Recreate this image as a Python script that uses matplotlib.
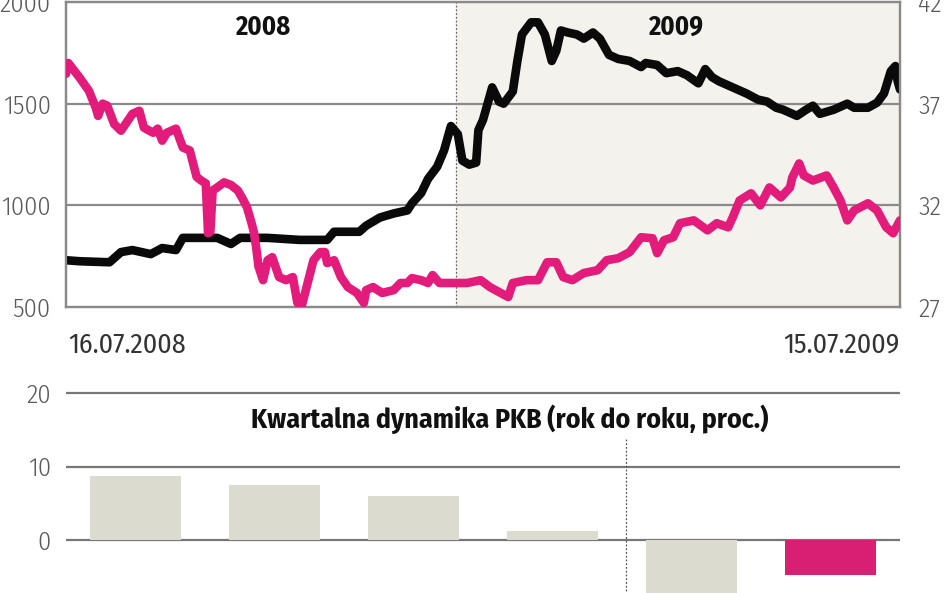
import matplotlib
matplotlib.use("Agg")
import matplotlib.pyplot as plt

# ---------------- data ----------------
start_label = "16.07.2008"
end_label = "15.07.2009"
year_labels = ["2008", "2009"]
days_total = 364
year_break_day = 170          # 1 Jan 2009 (days since 16.07.2008)

# pink series (left axis, 500-2000)
pink_day = [0, 1, 6, 10, 13, 14, 16, 18, 21, 24, 26, 29, 32, 34, 38, 40, 42, 44, 48, 51,
            54, 57, 59, 61, 62, 63, 64, 66, 69, 72, 75, 77, 79, 81, 82, 83, 84, 86, 88, 90,
            93, 96, 99, 101, 103, 105, 108, 111, 113, 114, 117, 120, 123, 127, 130, 131, 134, 138, 143, 146,
            149, 151, 155, 158, 160, 163, 169, 175, 181, 185, 193, 195, 201, 206, 210, 214, 217, 221, 226, 232,
            236, 241, 246, 251, 256, 258, 261, 265, 268, 274, 280, 284, 289, 291, 294, 299, 303, 307, 312, 316,
            317, 320, 322, 326, 332, 335, 338, 341, 344, 350, 354, 358, 361, 364]
pink_val = [1647, 1700, 1627, 1563, 1480, 1440, 1500, 1490, 1400, 1367, 1400, 1450, 1465, 1382, 1357, 1377, 1318, 1357, 1377, 1284,
            1270, 1140, 1122, 1108, 863, 870, 1073, 1088, 1113, 1100, 1073, 1034, 990, 912, 868, 794, 700, 632, 730, 745,
            647, 632, 647, 520, 510, 598, 730, 770, 770, 716, 730, 647, 598, 569, 520, 583, 598, 569, 583, 618,
            618, 642, 632, 618, 657, 618, 618, 618, 632, 598, 549, 618, 632, 632, 720, 720, 647, 632, 667, 681,
            730, 740, 770, 843, 838, 765, 828, 843, 912, 926, 877, 912, 892, 941, 1024, 1059, 1000, 1088, 1039, 1088,
            1137, 1206, 1147, 1122, 1147, 1088, 1024, 926, 975, 1010, 975, 892, 863, 926]

# black series (right axis, 27-42)
black_day = [0, 6, 19, 24, 29, 37, 42, 48, 51, 58, 66, 72, 76, 88, 102, 114, 117, 128, 131, 137,
             143, 149, 151, 155, 158, 162, 165, 168, 171, 173, 176, 179, 180, 182, 186, 189, 191, 195, 197, 199,
             203, 206, 209, 212, 214, 216, 219, 223, 226, 230, 233, 237, 241, 246, 251, 253, 258, 262, 267, 271,
             276, 279, 282, 285, 291, 297, 302, 306, 310, 313, 319, 323, 326, 329, 335, 341, 344, 350, 354, 357,
             360, 362, 363, 364]
black_val = [29.3, 29.25, 29.2, 29.7, 29.8, 29.6, 29.9, 29.8, 30.4, 30.4, 30.4, 30.1, 30.4, 30.4, 30.3, 30.3, 30.7, 30.7, 31.0, 31.4,
             31.6, 31.75, 32.1, 32.6, 33.3, 33.9, 34.7, 35.9, 35.5, 34.2, 34.0, 34.1, 35.7, 36.2, 37.8, 37.1, 37.0, 37.6, 39.1, 40.4,
             41.0, 41.0, 40.4, 39.1, 39.6, 40.6, 40.5, 40.4, 40.2, 40.5, 40.2, 39.4, 39.2, 39.1, 38.8, 39.0, 38.9, 38.5, 38.6, 38.4,
             38.0, 38.7, 38.3, 38.1, 37.8, 37.5, 37.2, 37.1, 36.8, 36.7, 36.4, 36.7, 36.9, 36.5, 36.7, 37.0, 36.8, 36.8, 37.05, 37.5,
             38.6, 38.85, 38.1, 37.7]

left_ticks = [500, 1000, 1500, 2000]
right_ticks = [27, 32, 37, 42]

# GDP bars
gdp_title = "Kwartalna dynamika PKB (rok do roku, proc.)"
gdp_vals = [8.7, 7.5, 6.0, 1.2, -9.5, -4.7]
gdp_colors = ["#dcdbcf", "#dcdbcf", "#dcdbcf", "#dcdbcf", "#dcdbcf", "#d81f74"]
gdp_ticks = [0, 10, 20]

# ---------------- style ----------------
FAM = ["Fira Sans Condensed", "PT Sans Narrow", "DejaVu Sans"]
PINK = "#e31b7b"
GRID = "#8a8a8a"
TICKC = "#5a5a5a"

fig = plt.figure(figsize=(9.48, 5.93), dpi=100)
W, H = 948, 593

def ax_rect(l, t, r, b):
    return [l / W, 1 - b / H, (r - l) / W, (b - t) / H]

# ---------- top panel ----------
axb = fig.add_axes(ax_rect(66, 2, 900, 307))   # black (right scale)
axp = axb.twinx()                                # pink (left scale)
axb.set_xlim(0, days_total)
axb.set_ylim(27, 42)
axp.set_ylim(500, 2000)

axb.axvspan(year_break_day, days_total, color="#f3f2ec", zorder=0, lw=0)
axb.axvline(year_break_day, color="#666666", lw=0.9, ls=(0, (1.5, 1.5)), zorder=1)
for v in right_ticks[1:-1]:
    axb.axhline(v, color=GRID, lw=1.6, zorder=1)

axb.plot(black_day, black_val, color="#0a0a0a", lw=6.2, solid_joinstyle="round",
         solid_capstyle="round", zorder=3)
axp.plot(pink_day, pink_val, color=PINK, lw=6.2, solid_joinstyle="round",
         solid_capstyle="round", zorder=3)

for a in (axb, axp):
    for s in a.spines.values():
        s.set_color(GRID)
        s.set_linewidth(1.6)
    a.tick_params(length=0)
    a.set_xticks([])

axb.yaxis.tick_right()
axb.set_yticks(right_ticks)
axb.set_yticklabels([str(v) for v in right_ticks])
axb.tick_params(axis="y", pad=13, labelcolor=TICKC, labelsize=19)
axp.yaxis.tick_left()
axp.set_yticks(left_ticks)
axp.set_yticklabels([str(v) for v in left_ticks])
axp.tick_params(axis="y", pad=11, labelcolor=TICKC, labelsize=19)
for lab in axb.get_yticklabels() + axp.get_yticklabels():
    lab.set_family(FAM)
    lab.set_fontweight(300)

axb.text(86, 0.918, year_labels[0], transform=axb.get_xaxis_transform(), ha="center", va="center",
         fontsize=19, fontweight="bold", family=FAM, color="#111111")
axb.text(266, 0.918, year_labels[1], transform=axb.get_xaxis_transform(), ha="center", va="center",
         fontsize=19, fontweight="bold", family=FAM, color="#111111")

fig.text(68 / W, 1 - 345 / H, start_label, ha="left", va="center", fontsize=20,
         family=FAM, color="#333333")
fig.text(900 / W, 1 - 345 / H, end_label, ha="right", va="center", fontsize=20,
         family=FAM, color="#333333")

# ---------- bottom panel ----------
ax3 = fig.add_axes(ax_rect(66, 390, 900, 593))
ax3.set_xlim(-0.5, len(gdp_vals) - 0.5)
ax3.set_ylim(-7.2, 20.41)
for v in gdp_ticks:
    ax3.axhline(v, color="#777777", lw=1.6, zorder=1)
ax3.bar(range(len(gdp_vals)), gdp_vals, width=0.65, color=gdp_colors, zorder=2)
ax3.plot([3.53, 3.53], [13.7, -7.2], color="#555555", lw=0.9, ls=(0, (1.5, 1.5)), zorder=3)
ax3.text(0.532, 16.4, gdp_title, transform=ax3.get_yaxis_transform(), ha="center", va="center",
         fontsize=20, fontweight="bold", family=FAM, color="#111111")
for s in ax3.spines.values():
    s.set_visible(False)
ax3.set_xticks([])
ax3.set_yticks(gdp_ticks)
ax3.set_yticklabels([str(v) for v in gdp_ticks])
ax3.tick_params(length=0, pad=11, labelcolor=TICKC, labelsize=19)
for lab in ax3.get_yticklabels():
    lab.set_family(FAM)
    lab.set_fontweight(300)

fig.savefig("out.png", dpi=100)
